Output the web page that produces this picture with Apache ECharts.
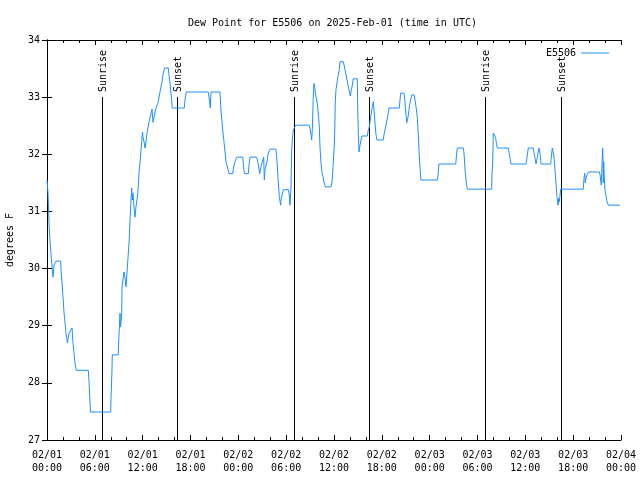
<!DOCTYPE html>
<html>
<head>
<meta charset="utf-8">
<script src="https://cdn.jsdelivr.net/npm/echarts@6/dist/echarts.min.js"></script>
<style>html,body{margin:0;padding:0;background:#fff}#c{width:640px;height:480px}</style>
</head>
<body>
<div id="c"></div>
<script>
// hours since 2025-02-01 00:00 UTC
var hours = [0,0.13,0.25,0.38,0.56,0.75,0.88,1.13,1.72,1.76,1.88,2.01,2.13,2.26,2.38,2.57,2.76,3.14,3.26,3.39,3.51,3.68,5.18,5.27,5.39,5.46,7.99,8.03,8.15,8.19,8.94,8.97,9.16,9.22,9.37,9.41,9.66,9.78,9.91,10.04,10.29,10.41,10.62,10.70,10.79,10.91,11.04,11.16,11.38,11.54,11.67,11.79,11.98,12.04,12.17,12.29,12.42,12.54,12.79,13.05,13.17,13.30,13.55,13.67,13.92,14.17,14.43,14.55,14.74,15.22,15.30,15.43,15.55,15.72,17.22,17.31,17.47,20.23,20.32,20.48,20.57,21.70,21.83,21.95,22.08,22.20,22.33,22.45,22.70,22.83,23.29,23.39,23.58,23.80,24.55,24.65,24.75,25.25,25.34,25.46,26.30,26.47,26.68,26.84,27.18,27.26,27.34,27.56,27.76,27.97,28.72,28.85,29.01,29.14,29.31,29.35,29.64,30.27,30.36,30.48,30.61,30.69,30.77,30.90,31.02,31.23,32.87,32.99,33.12,33.20,33.28,33.40,33.49,33.62,33.74,33.87,33.99,34.16,34.24,34.37,34.50,34.62,34.75,34.93,35.62,35.75,35.88,36.00,36.09,36.16,36.25,36.38,36.50,36.67,36.75,37.17,37.34,37.51,37.63,37.76,37.88,38.05,38.13,38.26,38.42,38.92,38.97,39.05,39.14,39.26,39.39,39.51,40.18,40.26,40.43,40.55,40.68,40.81,40.93,41.02,41.14,41.27,41.39,42.18,42.27,42.40,42.52,42.65,42.77,42.90,44.19,44.28,44.37,44.78,44.91,45.03,45.12,45.28,45.41,45.53,45.75,45.91,46.04,46.16,46.29,46.45,46.58,46.66,46.79,46.91,48.96,49.05,49.17,51.27,51.39,51.47,52.22,52.31,52.47,52.60,52.72,55.78,55.82,55.91,55.98,56.16,56.28,56.36,56.49,57.87,57.95,58.08,58.20,60.09,60.21,60.37,61.00,61.09,61.21,61.34,61.50,61.59,61.72,61.84,61.97,63.18,63.26,63.38,63.51,63.60,63.72,63.85,63.97,64.10,64.19,64.26,64.44,67.27,67.36,67.45,67.52,67.61,67.74,67.90,69.28,69.37,69.53,69.62,69.71,69.78,69.83,69.91,69.99,70.24,70.41,71.88];
var dewPoint = [31.55,31.32,30.80,30.47,30.15,29.85,30.06,30.13,30.13,29.98,29.75,29.50,29.24,29.05,28.87,28.70,28.87,28.96,28.70,28.52,28.35,28.22,28.22,28.03,27.66,27.49,27.49,27.73,28.22,28.49,28.49,28.66,29.22,28.98,29.19,29.68,29.94,29.84,29.68,29.94,30.45,30.85,31.41,31.20,31.32,31.08,30.90,31.08,31.29,31.67,31.86,32.07,32.39,32.30,32.22,32.11,32.22,32.37,32.56,32.72,32.79,32.56,32.74,32.81,32.90,33.09,33.27,33.39,33.51,33.51,33.39,33.25,33.07,32.81,32.81,32.95,33.09,33.09,33.00,32.81,33.09,33.09,32.74,32.57,32.37,32.22,32.04,31.87,31.73,31.66,31.66,31.76,31.87,31.95,31.95,31.81,31.66,31.66,31.81,31.95,31.95,31.85,31.66,31.78,31.95,31.55,31.73,31.85,32.02,32.09,32.09,31.87,31.52,31.26,31.11,31.20,31.38,31.38,31.32,31.11,31.43,32.07,32.25,32.43,32.46,32.51,32.51,32.46,32.34,32.25,32.43,32.99,33.24,33.13,33.00,32.92,32.78,32.48,32.13,31.85,31.67,31.61,31.50,31.43,31.43,31.52,31.78,32.07,32.37,32.92,33.13,33.25,33.36,33.48,33.62,33.62,33.51,33.39,33.30,33.21,33.13,33.02,33.09,33.18,33.32,33.32,32.83,32.37,32.04,32.16,32.25,32.32,32.32,32.40,32.48,32.60,32.72,32.83,32.92,32.78,32.55,32.34,32.25,32.25,32.34,32.43,32.51,32.60,32.69,32.81,32.81,32.95,33.07,33.07,32.90,32.69,32.55,32.65,32.78,32.90,33.04,33.07,33.04,32.95,32.83,32.65,32.32,32.08,31.76,31.55,31.55,31.64,31.83,31.83,32.02,32.11,32.11,32.02,31.67,31.50,31.39,31.39,31.64,31.90,32.37,32.37,32.29,32.20,32.11,32.11,32.04,31.94,31.83,31.83,31.94,32.11,32.11,32.02,31.94,31.83,31.94,32.02,32.11,32.02,31.83,31.83,31.95,32.11,32.11,31.95,31.73,31.50,31.26,31.11,31.23,31.17,31.39,31.39,31.58,31.67,31.50,31.58,31.64,31.69,31.69,31.64,31.46,31.85,32.11,31.50,31.87,31.58,31.38,31.17,31.11,31.11];
var sunHours = [6.93, 16.35, 31.02, 40.43, 54.98, 64.51];
var sunLabels = ['Sunrise', 'Sunset', 'Sunrise', 'Sunset', 'Sunrise', 'Sunset'];
var dayLabels = ['02/01', '02/02', '02/03', '02/04'];
var seriesName = 'E5506';

var FONT = 'DejaVu Sans Mono';
var lineData = hours.map(function (h, i) { return [h, dewPoint[i]]; });
var sunData = sunHours.map(function (h) { return [h]; });

function fmtX(v) {
  var d = Math.floor(v / 24 + 1e-6);
  var hh = Math.round(v - d * 24);
  return dayLabels[d] + '\n' + (hh < 10 ? '0' : '') + hh + ':00';
}

var chart = echarts.init(document.getElementById('c'), null, {renderer: 'canvas'});
var axisCommon = {
  axisLine: {show: true, lineStyle: {color: '#000', width: 1}},
  axisTick: {show: true, inside: true, length: 5, lineStyle: {color: '#000'}},
  splitLine: {show: false}
};
chart.setOption({
  animation: false,
  backgroundColor: '#fff',
  title: {
    text: 'Dew Point for E5506 on 2025-Feb-01 (time in UTC)',
    left: 183, top: 13,
    textStyle: {fontFamily: FONT, fontSize: 10, fontWeight: 'normal', color: '#000'}
  },
  legend: {
    data: [{name: seriesName, icon: 'rect'}], right: 26, top: 43, itemWidth: 28, itemHeight: 1,
    align: 'right', itemStyle: {color: '#1e90ff'},
    textStyle: {fontFamily: FONT, fontSize: 10, color: '#000'}
  },
  grid: {left: 47, right: 19, top: 40, bottom: 40, containLabel: false, outerBoundsMode: 'none'},
  xAxis: [
    Object.assign({}, axisCommon, {
      type: 'value', min: 0, max: 72, interval: 6, position: 'bottom',
      minorTick: {show: true, splitNumber: 3, length: 3, lineStyle: {color: '#000'}},
      axisLabel: {formatter: fmtX, fontFamily: FONT, fontSize: 10, color: '#000', margin: 9, lineHeight: 13}
    }),
    Object.assign({}, axisCommon, {
      type: 'value', min: 0, max: 72, interval: 6, position: 'top',
      minorTick: {show: true, splitNumber: 3, length: 3, lineStyle: {color: '#000'}},
      axisLabel: {show: false}
    })
  ],
  yAxis: [
    Object.assign({}, axisCommon, {
      type: 'value', min: 27, max: 34, interval: 1, position: 'left',
      name: 'degrees F', nameLocation: 'middle', nameGap: 32, nameRotate: 90,
      nameTextStyle: {fontFamily: FONT, fontSize: 10, color: '#000'},
      axisLabel: {fontFamily: FONT, fontSize: 10, color: '#000', margin: 7}
    }),
    Object.assign({}, axisCommon, {
      type: 'value', min: 27, max: 34, interval: 1, position: 'right',
      axisLabel: {show: false}
    })
  ],
  series: [
    {
      type: 'custom', name: 'sun', silent: true, xAxisIndex: 0, yAxisIndex: 0,
      data: sunData, encode: {x: 0},
      renderItem: function (params, api) {
        var t = api.value(0);
        var top = api.coord([t, 33]);
        var bot = api.coord([t, 27]);
        var x = Math.round(top[0]) + 0.5;
        return {
          type: 'group', children: [
            {type: 'line', shape: {x1: x, y1: Math.round(top[1]), x2: x, y2: bot[1]},
             style: {stroke: '#000', lineWidth: 1}},
            {type: 'text', x: x + 1, y: Math.round(top[1]) - 5, rotation: Math.PI / 2,
             style: {text: sunLabels[params.dataIndex], font: '10px "' + FONT + '"', fill: '#000',
                     align: 'left', verticalAlign: 'middle'}}
          ]
        };
      }
    },
    {
      type: 'line', name: seriesName, data: lineData, symbol: 'none', showSymbol: false,
      xAxisIndex: 0, yAxisIndex: 0,
      lineStyle: {color: '#1e90ff', width: 1}, itemStyle: {color: '#1e90ff'}
    }
  ]
});
</script>
</body>
</html>
